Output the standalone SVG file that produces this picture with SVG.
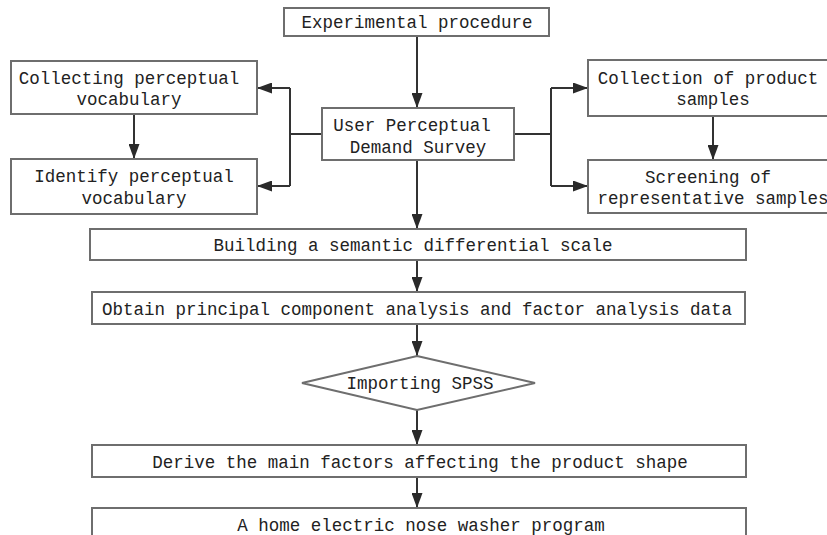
<svg xmlns="http://www.w3.org/2000/svg" width="827" height="535" viewBox="0 0 827 535">
<style>
.box{fill:#fff;stroke:#6e6e6e;stroke-width:2}
.t{font-family:"Liberation Mono","DejaVu Sans Mono",monospace;font-size:17.5px;fill:#222;text-anchor:middle}
.c{fill:none;stroke:#333;stroke-width:2}
</style>
<defs>
<marker id="ah" markerUnits="userSpaceOnUse" markerWidth="15" markerHeight="11" refX="15" refY="5.5" orient="auto">
<path d="M0,0 L15,5.5 L0,11 z" fill="#2a2a2a"/>
</marker>
</defs>
<rect width="827" height="535" fill="#fff"/>
<g id="connectors">
<path class="c" d="M417,36 V108" marker-end="url(#ah)"/>
<path class="c" d="M322,134 H290 M290,88 V186"/>
<path class="c" d="M290,88 H257" marker-end="url(#ah)"/>
<path class="c" d="M290,186 H257" marker-end="url(#ah)"/>
<path class="c" d="M514,134 H551 M551,88 V186"/>
<path class="c" d="M551,88 H588" marker-end="url(#ah)"/>
<path class="c" d="M551,186 H588" marker-end="url(#ah)"/>
<path class="c" d="M134,114 V159" marker-end="url(#ah)"/>
<path class="c" d="M713,116 V160" marker-end="url(#ah)"/>
<path class="c" d="M417,160 V229" marker-end="url(#ah)"/>
<path class="c" d="M417,260 V292" marker-end="url(#ah)"/>
<path class="c" d="M417,324 V356" marker-end="url(#ah)"/>
<path class="c" d="M417,410 V445" marker-end="url(#ah)"/>
<path class="c" d="M417,477 V508" marker-end="url(#ah)"/>
</g>
<g id="n-start"><rect class="box" x="284" y="8" width="265" height="28"/><text class="t" x="417" y="28">Experimental procedure</text></g>
<g id="n-collect-vocab"><rect class="box" x="11" y="61" width="246" height="53"/><text class="t" x="129" y="84">Collecting perceptual</text><text class="t" x="129" y="105">vocabulary</text></g>
<g id="n-identify-vocab"><rect class="box" x="11" y="159" width="246" height="55"/><text class="t" x="134" y="182">Identify perceptual</text><text class="t" x="134" y="204">vocabulary</text></g>
<g id="n-survey"><rect class="box" x="322" y="108" width="192" height="52"/><text class="t" x="412" y="131">User Perceptual</text><text class="t" x="418" y="153">Demand Survey</text></g>
<g id="n-collect-samples"><rect class="box" x="588" y="60" width="250" height="56"/><text class="t" x="708" y="84">Collection of product</text><text class="t" x="713" y="105">samples</text></g>
<g id="n-screen"><rect class="box" x="588" y="160" width="250" height="53"/><text class="t" x="708" y="183">Screening of</text><text class="t" x="713" y="204">representative samples</text></g>
<g id="n-scale"><rect class="box" x="90" y="229" width="656" height="31"/><text class="t" x="413" y="251">Building a semantic differential scale</text></g>
<g id="n-pca"><rect class="box" x="92" y="292" width="653" height="32"/><text class="t" x="417" y="315">Obtain principal component analysis and factor analysis data</text></g>
<g id="n-spss"><polygon class="box" points="417,356 535,383 417,410 302,383"/><text class="t" x="420" y="389">Importing SPSS</text></g>
<g id="n-factors"><rect class="box" x="92" y="445" width="654" height="32"/><text class="t" x="420" y="468">Derive the main factors affecting the product shape</text></g>
<g id="n-program"><rect class="box" x="92" y="508" width="654" height="40"/><text class="t" x="421" y="531">A home electric nose washer program</text></g>
</svg>
